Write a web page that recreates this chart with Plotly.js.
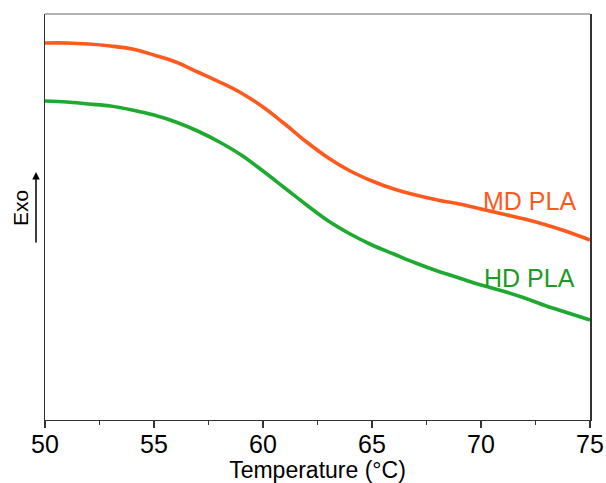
<!DOCTYPE html>
<html>
<head>
<meta charset="utf-8">
<script src="https://cdn.plot.ly/plotly-3.0.1.min.js"></script>
<style>html,body{margin:0;padding:0;background:#fff;}#chart{width:606px;height:483px;}</style>
</head>
<body>
<div id="chart"></div>
<script>
const temperature = [50,51,52,53,54,55,56,57,58,59,60,61,62,63,64,65,66,67,68,69,70,71,72,73,74,75];
const mdPla = [377,377,376,374,371,365,358,348,338,327,313,296,278,262,249,239,231,225,220,216,211,206,201,195,188,180];
const hdPla = [319,318,316,314,310,305,298,289,278,265,249,232,215,199,186,175,166,157,149,142,135,129,122,114,107,100];
const seriesNames = ["MD PLA", "HD PLA"];
const xTickVals = [50,55,60,65,70,75];

const font = "Liberation Sans, Arial, sans-serif";
const data = [
  {x: temperature, y: mdPla, name: seriesNames[0], mode: 'lines', line: {color: '#FF5A1E', width: 3.6, shape: 'spline', smoothing: 1}},
  {x: temperature, y: hdPla, name: seriesNames[1], mode: 'lines', line: {color: '#1EAA2E', width: 3.6, shape: 'spline', smoothing: 1}}
];
const layout = {
  width: 606, height: 483,
  margin: {l: 45, r: 16, t: 14, b: 63},
  paper_bgcolor: '#fff', plot_bgcolor: '#fff',
  showlegend: false,
  font: {family: font, color: '#000'},
  xaxis: {
    range: [50, 75], tickvals: xTickVals, ticks: 'outside', ticklen: 7, tickwidth: 1.2, tickcolor: '#333',
    showline: true, linecolor: '#333', linewidth: 1.2, showgrid: false, zeroline: false,
    tickfont: {size: 25, family: font}, ticklabelstandoff: -5,
    minor: {dtick: 2.5, tick0: 50, ticks: 'outside', ticklen: 4, tickwidth: 1.2, tickcolor: '#333', showgrid: false},
    title: {text: 'Temperature (°C)', font: {size: 23, family: font}, standoff: 2}
  },
  yaxis: {
    range: [0, 406], showticklabels: false, ticks: '', showgrid: false, zeroline: false,
    showline: true, mirror: true, linecolor: '#333', linewidth: 1.5
  },
  shapes: [
    {type: 'line', xref: 'paper', yref: 'paper', x0: 0, x1: 1, y0: 1, y1: 1, line: {color: '#999', width: 1.5}}
  ],
  annotations: [
    {xref: 'paper', yref: 'paper', x: (578-45)/545, y: (420-201)/406, text: seriesNames[0], showarrow: false, xanchor: 'right', yanchor: 'middle', font: {size: 25, color: '#FF5A1E', family: font}},
    {xref: 'paper', yref: 'paper', x: (577-45)/545, y: (420-278)/406, text: seriesNames[1], showarrow: false, xanchor: 'right', yanchor: 'middle', font: {size: 25, color: '#1E9A26', family: font}},
    {xref: 'paper', yref: 'paper', x: (20-45)/545, y: (420-208)/406, text: 'Exo', textangle: -90, showarrow: false, xanchor: 'center', yanchor: 'middle', font: {size: 21, family: font}},
    {xref: 'paper', yref: 'paper', x: (36-45)/545, y: (420-172)/406, ax: 0, ay: 72, axref: 'pixel', ayref: 'pixel', text: '', showarrow: true, arrowhead: 2, arrowsize: 1, arrowwidth: 1.5, arrowcolor: '#000'}
  ]
};
Plotly.newPlot('chart', data, layout, {displayModeBar: false, staticPlot: true});
</script>
</body>
</html>
